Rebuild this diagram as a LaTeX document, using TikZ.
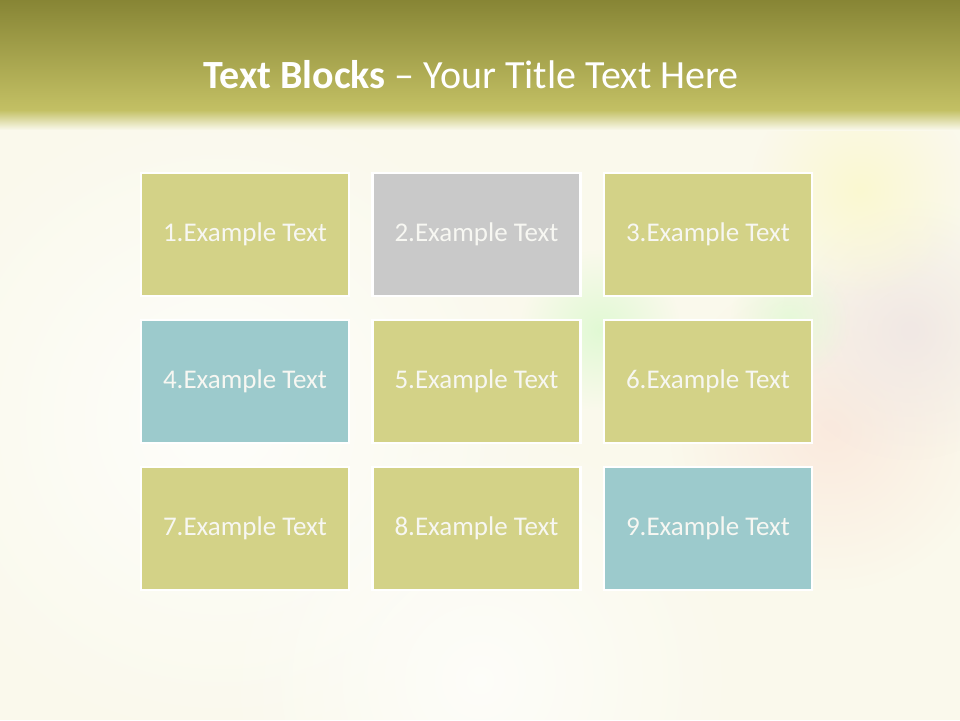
\documentclass[tikz,border=0pt]{standalone}
\usepackage{fontspec}
\setmainfont{Carlito}
\usetikzlibrary{fadings}
\definecolor{bgcream}{HTML}{FAF9EC}
\definecolor{bartop}{HTML}{878535}
\definecolor{barbot}{HTML}{C3C064}
\definecolor{olivebox}{HTML}{D3D287}
\definecolor{graybox}{HTML}{C9C9C9}
\definecolor{tealbox}{HTML}{9CCACC}
\definecolor{boxtext}{HTML}{F7F7F2}
\tikzfading[name=softdot, inner color=transparent!0, outer color=transparent!100]
\tikzset{
  x=1pt, y=-1pt,
  blob/.style={path fading=softdot},
  block/.style={draw=white, line width=2.5pt, minimum width=208pt, minimum height=123pt,
    inner sep=0pt, text=boxtext, font=\fontsize{27}{31}\selectfont},
  oliveblk/.style={block, fill=olivebox},
  grayblk/.style={block, fill=graybox},
  tealblk/.style={block, fill=tealbox},
}
\begin{document}
\begin{tikzpicture}
\useasboundingbox (0,0) rectangle (960,720);
% background
\fill[bgcream] (0,0) rectangle (960,720);
\fill[white, blob, opacity=0.8] (220,420) circle (330);
\fill[white, blob, opacity=0.7] (480,680) circle (260);
\fill[red!6!bgcream, blob] (830,430) circle (160);
\fill[violet!7!bgcream, blob] (910,330) circle (130);
\fill[green!10!bgcream, blob] (600,330) circle (80);
\fill[green!8!bgcream, blob] (790,320) circle (60);
\fill[yellow!12!bgcream, blob] (860,190) circle (110);
% title bar
\shade[top color=bartop, bottom color=barbot] (0,0) rectangle (960,110);
\shade[top color=barbot, bottom color=bgcream] (0,110) rectangle (960,130);
\node[text=white, font=\fontsize{40}{46}\selectfont, anchor=base] (title) at (471,88)
  {\textbf{Text Blocks} – Your Title Text Here};
% blocks
\node[oliveblk] (b1) at (245,234.5) {1.Example Text};
\node[grayblk]  (b2) at (476.5,234.5) {2.Example Text};
\node[oliveblk] (b3) at (708,234.5) {3.Example Text};
\node[tealblk]  (b4) at (245,381.5) {4.Example Text};
\node[oliveblk] (b5) at (476.5,381.5) {5.Example Text};
\node[oliveblk] (b6) at (708,381.5) {6.Example Text};
\node[oliveblk] (b7) at (245,528.5) {7.Example Text};
\node[oliveblk] (b8) at (476.5,528.5) {8.Example Text};
\node[tealblk]  (b9) at (708,528.5) {9.Example Text};
\end{tikzpicture}
\end{document}
